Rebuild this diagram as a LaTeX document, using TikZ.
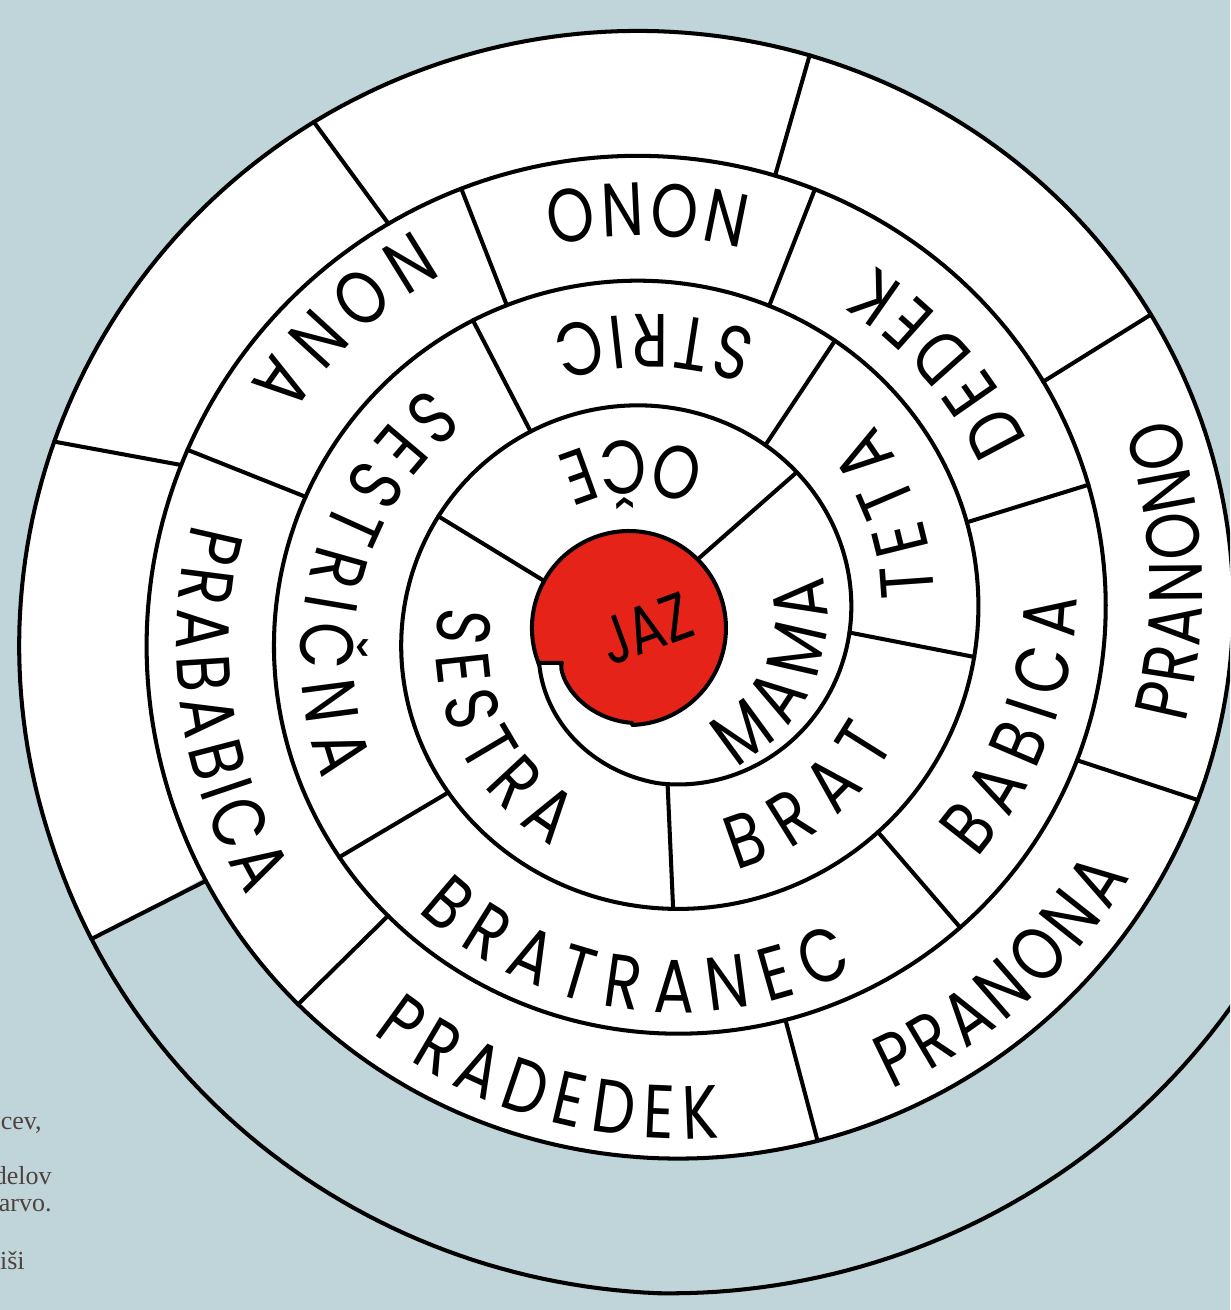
\documentclass[tikz,border=0pt]{standalone}
\usepackage{fontspec}
\setmainfont{Liberation Serif}
\newfontfamily\handfont{Poppins}[FakeStretch=0.8]
\usetikzlibrary{decorations.text}
\definecolor{bgblue}{RGB}{192,213,217}
\definecolor{jazred}{RGB}{230,35,25}
\definecolor{sidetext}{RGB}{77,66,60}
\newcommand\lblfont{\handfont\fontsize{43}{46}\selectfont}
% divider between two turns of the spiral: inner angle, outer angle
\newcommand\spdiv[2]{\draw[ring] ({658+1.02*RR(#1-360)*cos(#1)},{684+RR(#1-360)*sin(#1)}) -- ({658+1.02*RR(#2)*cos(#2)},{684+RR(#2)*sin(#2)});}
% label along the band: text, first angle, last angle, first radius, last radius
\newcommand\spl[5]{%
  \pgfmathsetmacro\splA{#2-1200/#4}%
  \pgfmathsetmacro\splB{#3+1200/#5}%
  \path[decorate, decoration={text along path, text={|\lblfont|#1}, text align={fit to path}, raise=-15pt}]
    plot[domain=\splA:\splB, samples=60, variable=\t]
    ({655+(#4+(#5-#4)*(\t-(#2))/((#3)-(#2)))*cos(\t)},{684+(#4+(#5-#4)*(\t-(#2))/((#3)-(#2)))*sin(\t)});
}
\begin{document}
\begin{tikzpicture}[x=0.02cm,y=0.02cm, line join=round,
  declare function={RR(\a)=63.5+0.347222*\a-10*max(0,(270-\a)/73.5)+10*max(0,1-abs(\a-1710)/70);},
  ring/.style={line width=2.3pt, draw=black, line cap=round}]
\useasboundingbox (0,0) rectangle (1230,1310);
\clip (0,0) rectangle (1230,1310);
\fill[bgblue] (0,0) rectangle (1230,1310);
% white spiral area
\fill[white] plot[domain=1289.5:1649.5, samples=250, variable=\t] ({658+1.02*RR(\t)*cos(\t)},{684+RR(\t)*sin(\t)}) -- cycle;
% red centre
\filldraw[fill=jazred, ring] (538.4,647.2) arc[start angle=201, end angle=-88, radius=97]
  -- plot[domain=272:208.5, samples=30, variable=\t] ({629+(75.6+19.4*((\t-207.6)/64.4)^0.6)*cos(\t)},{682+(75.6+19.4*((\t-207.6)/64.4)^0.6)*sin(\t)})
  -- (562,647) -- cycle;
% spiral line
\draw[ring] (538.4,647.2) -- plot[domain=199:1800, samples=1300, variable=\t] ({658+1.02*RR(\t)*cos(\t)},{684+RR(\t)*sin(\t)});
% dividers of the first band (start on the red centre)
\draw[ring] ({629+97*cos(45)},{682+97*sin(45)}) -- ({658+1.02*RR(408.5)*cos(408.5)},{684+RR(408.5)*sin(408.5)});
\draw[ring] ({629+97*cos(151)},{682+97*sin(151)}) -- ({658+1.02*RR(513)*cos(513)},{684+RR(513)*sin(513)});
% other dividers
\spdiv{633.4}{633}
\spdiv{718}{714.3}
\spdiv{779.8}{778.7}
\spdiv{842.7}{840.7}
\spdiv{939}{936.5}
\spdiv{1036.3}{1034.5}
\spdiv{1098.9}{1098.5}
\spdiv{1151.2}{1150.6}
\spdiv{1194.8}{1193.8}
\spdiv{1239.5}{1239.1}
\spdiv{1307.6}{1307}
\spdiv{1367.6}{1366.9}
\spdiv{1421.9}{1421.8}
\spdiv{1472.9}{1472.8}
\spdiv{1515.7}{1515.4}
\spdiv{1563.3}{1563.8}
\spdiv{1601}{1602.7}
\spdiv{1649.9}{1649.4}
% labels
\node[rotate=20, font=\handfont\fontsize{38}{40}\selectfont] (jaz) at (646,681) {JAZ};
\spl{MAMA}{307.3}{370.2}{137}{147}
\spl{OČE}{81}{115}{155}{167}
\spl{SESTRA}{541.2}{600.7}{192}{214.5}
\spl{BRAT}{653.4}{689.5}{232}{240}
\spl{TETA}{731}{759}{256}{268}
\spl{STRIC}{794.7}{825.8}{284}{287}
\spl{SESTRIČNA}{857.5}{921.8}{305}{338}
\spl{BRATRANEC}{953.7}{1017.3}{346}{370}
\spl{BABICA}{1047.6}{1081.3}{373}{395}
\spl{DEDEK}{1109.5}{1135.9}{390}{395}
\spl{NONO}{1160}{1182}{414}{419}
\spl{NONA}{1204}{1226.8}{438}{444}
\spl{PRABABICA}{1250.2}{1291.2}{448.5}{461.7}
\spl{PRADEDEK}{1317.9}{1355}{471}{488}
\spl{PRANONA}{1379.5}{1410}{495}{510}
\spl{PRANONO}{1432}{1460}{514}{533}
% cut-off page text at the lower left
\begin{scope}[every node/.style={anchor=base east, inner sep=0pt, text=sidetext, font=\fontsize{14.8}{17}\selectfont}]
\node (t1) at (42,180) {cev,};
\node (t2) at (52,125) {delov};
\node (t3) at (52,98) {arvo.};
\node (t4) at (25,40) {iši};
\end{scope}
\end{tikzpicture}
\end{document}
